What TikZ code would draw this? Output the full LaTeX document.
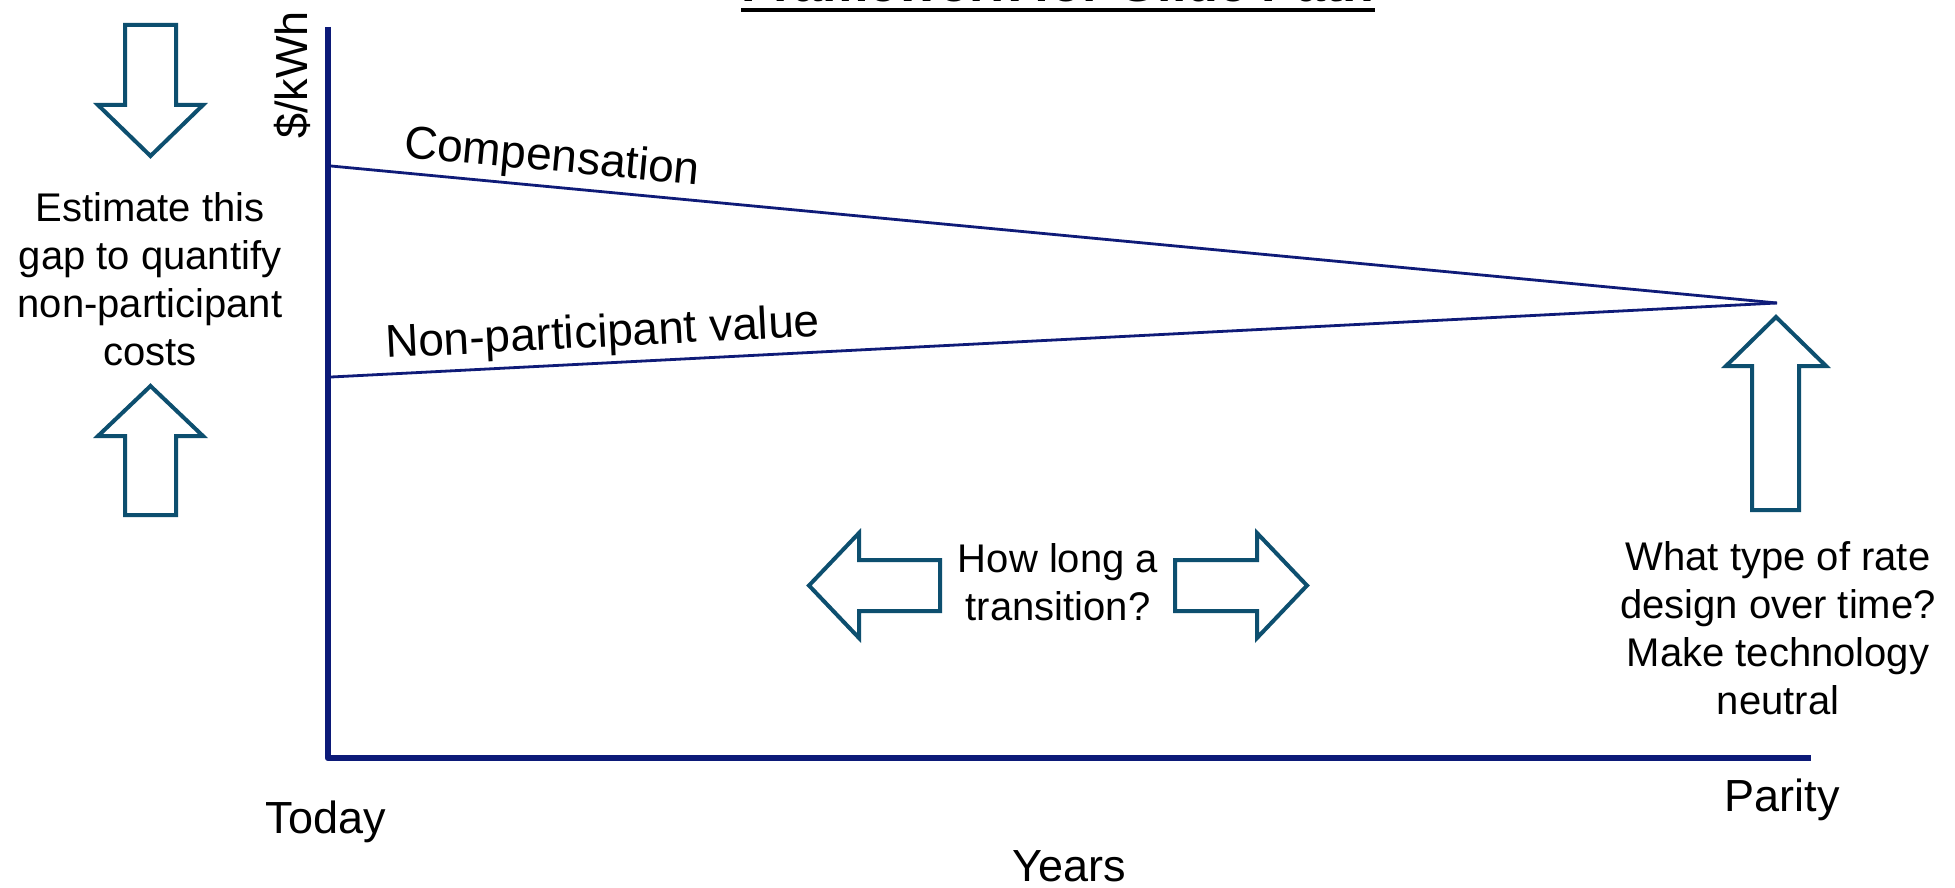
\documentclass[tikz,border=0pt]{standalone}
\usepackage{fontspec}
\setmainfont{Liberation Sans}
\definecolor{axisnavy}{HTML}{0C1A78}
\definecolor{linenavy}{HTML}{0F1B78}
\definecolor{arrowteal}{HTML}{0D4F6F}
\begin{document}
\begin{tikzpicture}[x=1pt,y=-1pt,
  sidetext/.style={font=\fontsize{40}{48}\selectfont, align=center, inner sep=0pt, text=black},
  linelabel/.style={font=\fontsize{46}{52}\selectfont, inner sep=0pt, text=black},
  axislabel/.style={font=\fontsize{45}{52}\selectfont, inner sep=0pt, text=black},
  blockarrow/.style={draw=arrowteal, line width=4pt, fill=white, line join=miter},
  axisline/.style={draw=axisnavy, line width=6.5pt, line join=round},
  trendline/.style={draw=linenavy, line width=2.8pt}]
\useasboundingbox (0,0) rectangle (1955,888);
\fill[white] (0,0) rectangle (1955,888);

% title (cut by top edge)
\node[font=\fontsize{52}{60}\selectfont\bfseries, inner sep=0pt, anchor=base] (title) at (1058,2) {Framework for Glide Path};
\draw[line width=3.5pt] ([yshift=-8pt]title.base west) -- ([yshift=-8pt]title.base east);

% axes
\coordinate (ytop) at (328,27);
\coordinate (origin) at (328,758);
\coordinate (xend) at (1811,758);
\draw[axisline] (ytop) -- (origin) -- (xend);

% trend lines
\coordinate (compStart) at (331,166);
\coordinate (npvStart) at (331,377);
\coordinate (parityPt) at (1777,303);
\draw[trendline] (compStart) -- (parityPt);
\draw[trendline] (npvStart) -- (parityPt);

\node[linelabel, anchor=base west, rotate=-5.4] (comp) at (403,157) {Compensation};
\node[linelabel, anchor=base west, rotate=2.9] (npv) at (386,358) {Non-participant value};

% axis labels
\node[axislabel, rotate=90, anchor=base] (ylab) at (307,75) {\$/kWh};
\node[axislabel, anchor=base] (today) at (326,833) {Today};
\node[axislabel, anchor=base] (parity) at (1782,811) {Parity};
\node[axislabel, anchor=base] (years) at (1069,881) {Years};

% left side: gap
\draw[blockarrow] (125,25) -- (176,25) -- (176,105) -- (203,105) -- (150.5,156) -- (98,105) -- (125,105) -- cycle;
\draw[blockarrow] (125,515) -- (176,515) -- (176,436) -- (203,436) -- (150.5,386) -- (98,436) -- (125,436) -- cycle;
\node[sidetext, anchor=north] (gap) at (150,192) {Estimate this\\gap to quantify\\non-participant\\costs};

% middle: transition
\draw[blockarrow] (940,560) -- (940,611) -- (859,611) -- (859,638) -- (809,585.5) -- (859,533) -- (859,560) -- cycle;
\draw[blockarrow] (1175,560) -- (1175,611) -- (1257,611) -- (1257,638) -- (1307,585.5) -- (1257,533) -- (1257,560) -- cycle;
\node[sidetext, anchor=north] (trans) at (1058,543) {How long a\\transition?};

% right: rate design
\draw[blockarrow] (1752,510) -- (1799,510) -- (1799,366) -- (1826,366) -- (1776,317) -- (1726,366) -- (1752,366) -- cycle;
\node[sidetext, anchor=north] (rate) at (1778,541) {What type of rate\\design over time?\\Make technology\\neutral};
\end{tikzpicture}
\end{document}
